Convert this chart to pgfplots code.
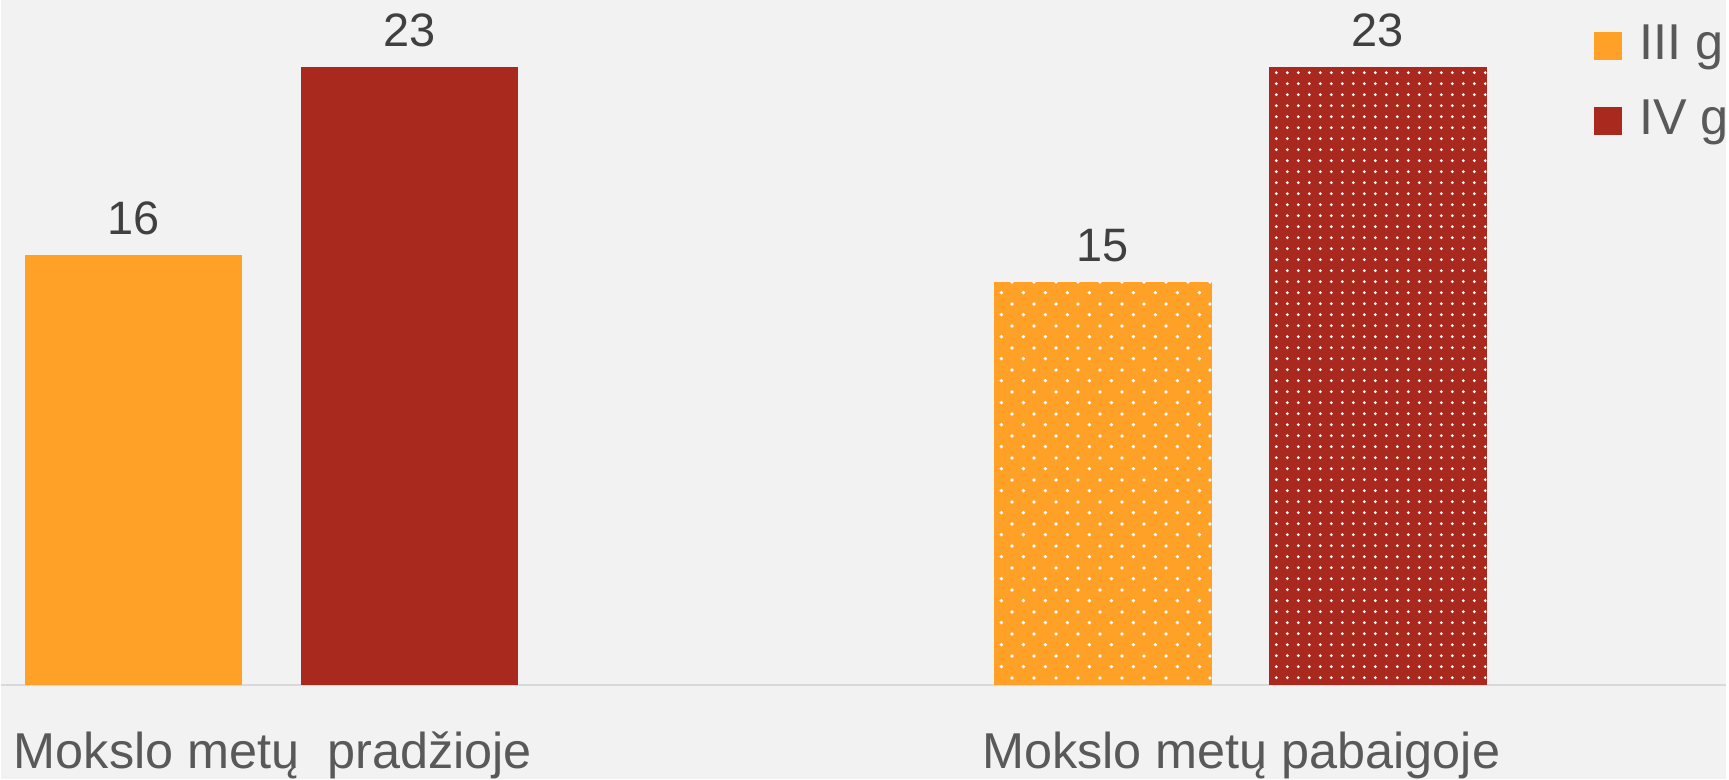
\documentclass[border=0pt]{standalone}
\usepackage{pgfplots}
\pgfplotsset{compat=1.18}
\usepackage{fontspec}
\setmainfont{Liberation Sans}
\usetikzlibrary{patterns.meta}
\definecolor{cOr}{HTML}{FFA126}
\definecolor{cRd}{HTML}{A9291E}
\definecolor{cBg}{HTML}{F2F2F2}
\definecolor{cTx}{HTML}{595959}
\definecolor{cLb}{HTML}{404040}
\definecolor{cLn}{HTML}{D9D9D9}
\tikzdeclarepattern{
  name=dotsA,
  type=uncolored,
  bottom left={(0pt,0pt)},
  top right={(10.85pt,10.85pt)},
  tile size={(10.85pt,10.85pt)},
  code={
    \pgfpathcircle{\pgfpoint{2.71pt}{2.71pt}}{0.95pt}
    \pgfpathcircle{\pgfpoint{8.14pt}{8.14pt}}{0.95pt}
    \pgfusepath{fill}
  }
}
\tikzdeclarepattern{
  name=dotsB,
  type=uncolored,
  bottom left={(0pt,0pt)},
  top right={(5.4pt,5.4pt)},
  tile size={(5.4pt,5.4pt)},
  code={
    \pgfpathcircle{\pgfpoint{2.7pt}{2.7pt}}{0.8pt}
    \pgfusepath{fill}
  }
}
\pgfplotsset{sqleg/.style={legend image code/.code={\fill[##1] (0pt,-7pt) rectangle (14pt,7pt);}}}
\begin{document}
\begin{tikzpicture}
\begin{axis}[
  width=864.5pt, height=390.5pt, scale only axis,
  xmin=0, xmax=1729, ymin=-3.509, ymax=25.49,
  axis line style={draw=none},
  major tick length=0pt,
  ytick=\empty,
  xtick={272.5,1243},
  xticklabels={Mokslo metų\ \ pradžioje, Mokslo metų pabaigoje},
  xticklabel style={anchor=base, yshift=5.5pt, inner sep=0pt, text=cTx, font=\fontsize{25.25}{30}\selectfont},
  axis background/.style={fill=cBg},
  clip=false,
  /pgf/number format/assume math mode=true,
  nodes near coords style={anchor=base, yshift=10.5pt, inner sep=0pt, text=cLb, font=\fontsize{23.5}{28}\selectfont},
  legend style={draw=none, fill=none, at={(0.9235,0.9711)}, anchor=north west,
    inner sep=0pt, row sep=14.6pt,
    nodes={inner sep=0pt, text height=18.1pt, text depth=5pt, text=cTx, font=\fontsize{25.25}{30}\selectfont},
    /tikz/every odd column/.append style={column sep=8.5pt}},
  legend cell align=left,
]
\addplot[draw=cLn, line width=1pt, forget plot] coordinates {(0,0) (1729,0)};
\addplot[ybar, bar width=109pt, bar shift=0pt, fill=cOr, draw=none, nodes near coords, sqleg] coordinates {(133,16)};
\addlegendentry{III g}
\addplot[ybar, bar width=109pt, bar shift=0pt, fill=cRd, draw=none, nodes near coords, sqleg] coordinates {(409.5,23)};
\addlegendentry{IV g}
\addplot[ybar, bar width=109pt, bar shift=0pt, fill=cOr, draw=none, nodes near coords, forget plot,
  postaction={pattern=dotsA, pattern color=white}] coordinates {(1104.5,15)};
\addplot[ybar, bar width=109pt, bar shift=0pt, fill=cRd, draw=none, nodes near coords, forget plot,
  postaction={pattern=dotsB, pattern color=white}] coordinates {(1380,23)};
\end{axis}
\end{tikzpicture}
\end{document}
